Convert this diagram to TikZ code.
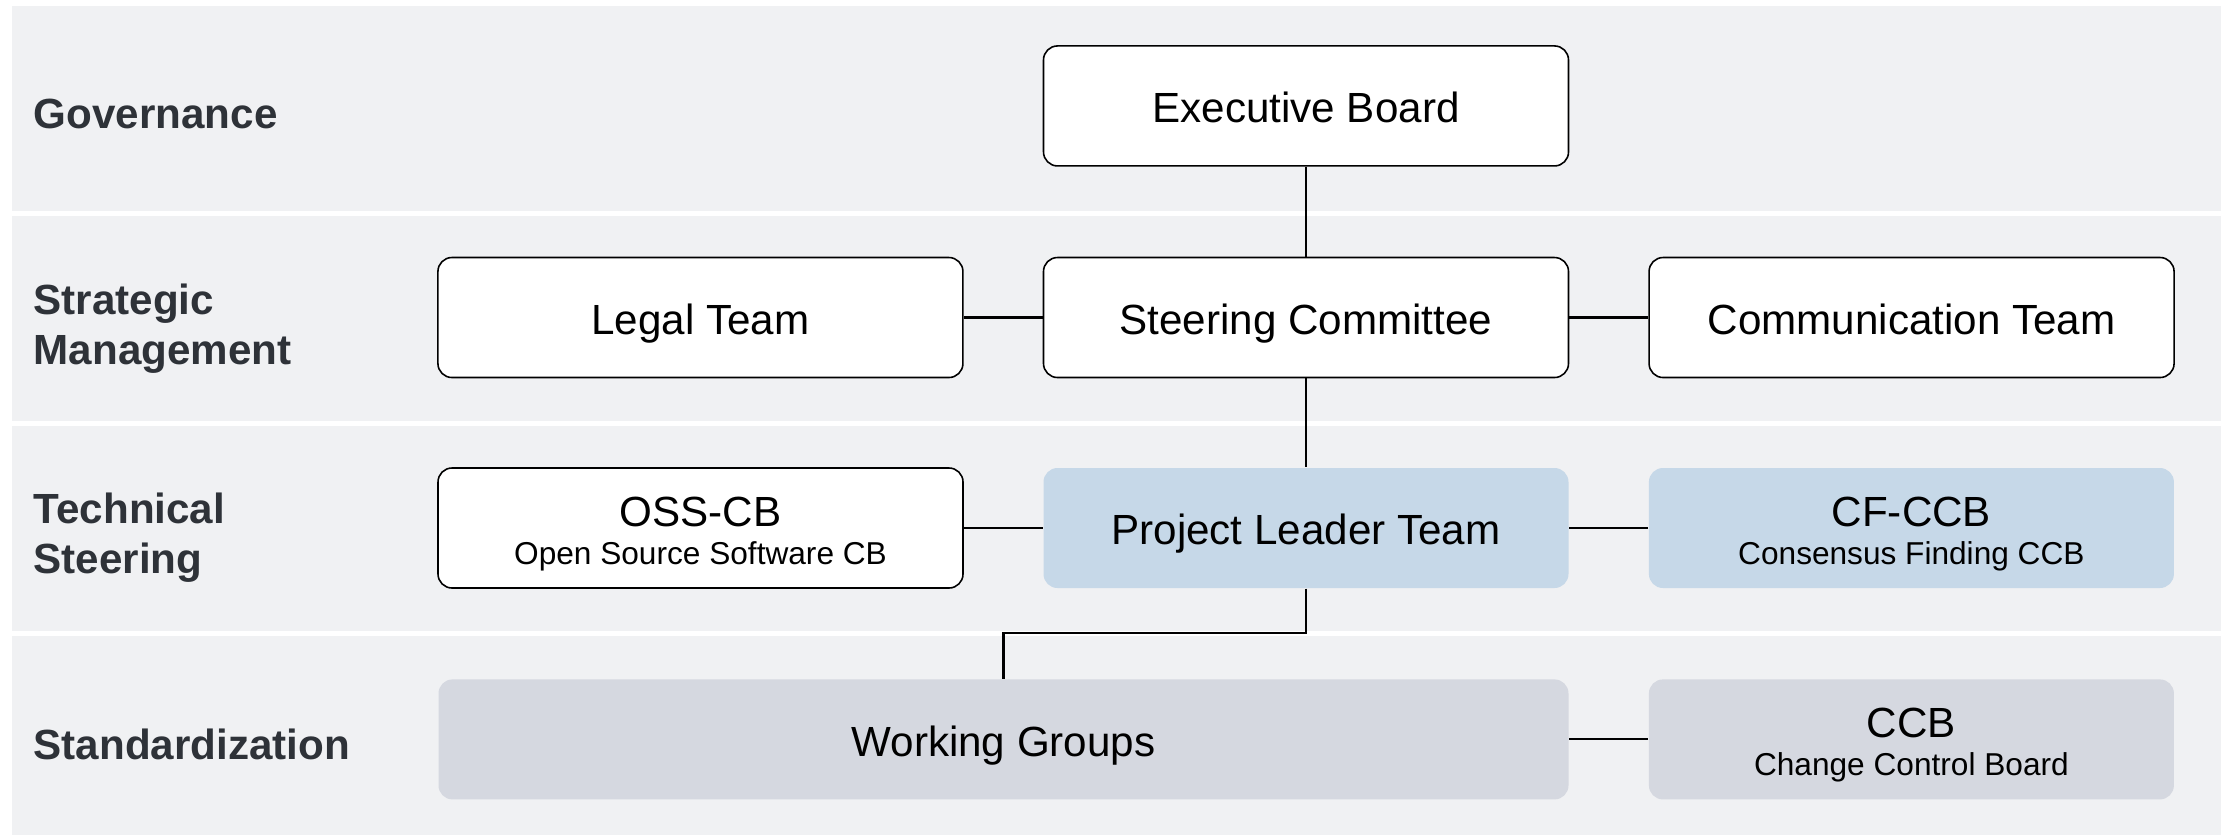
\documentclass[tikz,border=0pt]{standalone}
\usepackage{fontspec}
\setmainfont{Liberation Sans}
\usetikzlibrary{positioning}

\definecolor{bandgray}{HTML}{F0F1F3}
\definecolor{lanetext}{HTML}{2E3238}
\definecolor{leadblue}{HTML}{C6D8E8}
\definecolor{workgray}{HTML}{D5D8E0}

\newcommand{\subline}[1]{{\fontsize{9pt}{10pt}\selectfont #1}}

\tikzset{
	unit/.style={rectangle, rounded corners=1.4mm, minimum width=52.5mm,
		minimum height=12mm, inner sep=0pt, align=center,
		text height=10.5pt, text depth=0.9pt,
		font=\fontsize{12pt}{12.8pt}\selectfont},
	pair/.style={text height=20.5pt, text depth=0pt,
		font=\fontsize{12pt}{10.8pt}\selectfont},
	plain/.style={unit, draw=black, line width=0.45pt, fill=white},
	lead/.style={unit, fill=leadblue},
	work/.style={unit, fill=workgray},
	lane/.style={anchor=west, align=left, text=lanetext, inner sep=0pt,
		font=\fontsize{12pt}{14.2pt}\selectfont\bfseries},
	link/.style={draw=black, line width=0.6pt}
}

\begin{document}
\begin{tikzpicture}[x=0.1mm, y=-0.1mm]
			\useasboundingbox (0,0) rectangle (2226,835);
			% lanes
			\fill[bandgray] (12,6) rectangle (2221,211);
			\fill[bandgray] (12,216) rectangle (2221,421);
			\fill[bandgray] (12,426) rectangle (2221,631);
			\fill[bandgray] (12,636) rectangle (2221,835);
			\node[lane] (gov) at (33,114) {Governance};
			\node[lane] (strat) at (33,329) {Strategic\\Management};
			\node[lane] (tech) at (33,538) {Technical\\Steering};
			\node[lane] (std) at (33,744) {Standardization};
			% boxes
			\node[plain] (sc) at (1306,317.5) {Steering Committee};
			\node[plain, above=9mm of sc] (eb) {Executive Board};
			\node[plain, left=7.9mm of sc] (legal) {Legal Team};
			\node[plain, right=7.9mm of sc] (comm) {Communication Team};
			\node[lead, below=8.9mm of sc] (plt) {Project Leader Team};
			\node[plain, pair, left=7.9mm of plt] (oss) {OSS-CB\\\subline{Open Source Software CB}};
			\node[lead, pair, right=7.9mm of plt] (cf) {CF-CCB\\\subline{Consensus Finding CCB}};
			\node[work, pair, below=9mm of cf] (ccb) {CCB\\\subline{Change Control Board}};
			\node[work, minimum width=113mm, left=7.9mm of ccb] (wg) {Working Groups};
			% links
			\path[link]
			(eb) edge (sc)
			(sc) edge (legal)
				edge (comm)
				edge (plt)
			(plt) edge (oss)
				edge (cf)
			(wg) edge (ccb);
			\draw[link] (plt.south) -- ++(0,-4.4mm) -| (wg.north);
		\end{tikzpicture}
\end{document}
